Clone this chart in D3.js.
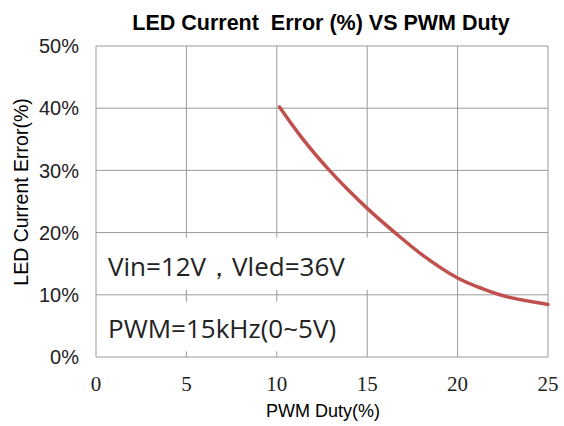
<!DOCTYPE html>
<html>
<head>
<meta charset="utf-8">
<script src="https://cdn.jsdelivr.net/npm/d3@7"></script>
<style>
  body { margin: 0; background: #fff; }
</style>
</head>
<body>
<div id="chart"></div>
<script>
// data
const duty = [10.15, 11.4, 12.85, 13.9, 15.0, 16.45, 18.1, 20.0, 21.4, 22.7, 25.0];
const errorPct = [40.2, 35.2, 30.2, 27.0, 23.9, 20.2, 16.3, 12.7, 10.95, 9.7, 8.45];
const xTicks = [0, 5, 10, 15, 20, 25];
const yTicks = [0, 10, 20, 30, 40, 50];
const notes = ["Vin=12V\uFF0CVled=36V", "PWM=15kHz(0~5V)"];

const width = 564, height = 426;
const margin = { top: 46, right: 16, bottom: 69, left: 96 };

const svg = d3.select("#chart").append("svg")
    .attr("width", width)
    .attr("height", height);

const x = d3.scaleLinear().domain([0, 25]).range([margin.left, width - margin.right]);
const y = d3.scaleLinear().domain([0, 50]).range([height - margin.bottom, margin.top]);

// Grid
svg.append("g")
    .selectAll("line")
    .data(xTicks)
    .enter().append("line")
    .attr("x1", d => x(d)).attr("x2", d => x(d))
    .attr("y1", y(0)).attr("y2", y(50))
    .attr("stroke", "#9a9a9a").attr("stroke-width", 1);

svg.append("g")
    .selectAll("line")
    .data(yTicks)
    .enter().append("line")
    .attr("x1", x(0)).attr("x2", x(25))
    .attr("y1", d => y(d)).attr("y2", d => y(d))
    .attr("stroke", "#9a9a9a").attr("stroke-width", 1);

// Text boxes (white, hiding the grid behind)
const boxes = [
    { x0: 0.1, x1: 15.5, y0: 19.2, y1: 10.8, baseline: 13.1 },
    { x0: 0.1, x1: 14.5, y0: 8.9, y1: 0.9, baseline: 3.0 }
];
boxes.forEach((b, i) => {
    svg.append("rect")
        .attr("x", x(b.x0)).attr("y", y(b.y0))
        .attr("width", x(b.x1) - x(b.x0))
        .attr("height", y(b.y1) - y(b.y0))
        .attr("fill", "#fff");
    svg.append("text")
        .attr("x", x(0) + 12)
        .attr("y", y(b.baseline))
        .attr("font-family", "'Open Sans', sans-serif")
        .attr("font-size", 26)
        .attr("fill", "#222")
        .text(notes[i]);
});

// Curve
const line = d3.line()
    .x((d, i) => x(duty[i]))
    .y(d => y(d))
    .curve(d3.curveCatmullRom.alpha(0.5));

svg.append("path")
    .datum(errorPct)
    .attr("d", line)
    .attr("fill", "none")
    .attr("stroke", "#c0504d")
    .attr("stroke-width", 3.5)
    .attr("stroke-linecap", "round");

// Y tick labels
svg.append("g")
    .selectAll("text")
    .data(yTicks)
    .enter().append("text")
    .attr("x", 79)
    .attr("y", d => y(d))
    .attr("dy", "0.36em")
    .attr("text-anchor", "end")
    .attr("font-family", "'Liberation Sans', Arial, sans-serif")
    .attr("font-size", 20)
    .attr("fill", "#222")
    .text(d => d + "%");

// X tick labels
svg.append("g")
    .selectAll("text")
    .data(xTicks)
    .enter().append("text")
    .attr("x", d => x(d))
    .attr("y", 391)
    .attr("text-anchor", "middle")
    .attr("font-family", "'Liberation Serif', serif")
    .attr("font-size", 21)
    .attr("fill", "#222")
    .text(d => d);

// Title
svg.append("text")
    .attr("x", 321)
    .attr("y", 30)
    .attr("text-anchor", "middle")
    .attr("font-family", "'Liberation Sans', Arial, sans-serif")
    .attr("font-weight", "bold")
    .attr("font-size", 21.5)
    .attr("fill", "#000")
    .attr("xml:space", "preserve")
    .text("LED Current  Error (%) VS PWM Duty");

// Axis titles
svg.append("text")
    .attr("x", 323)
    .attr("y", 417)
    .attr("text-anchor", "middle")
    .attr("font-family", "'Liberation Sans', Arial, sans-serif")
    .attr("font-size", 18)
    .attr("fill", "#000")
    .text("PWM Duty(%)");

svg.append("text")
    .attr("transform", "translate(28,192) rotate(-90)")
    .attr("text-anchor", "middle")
    .attr("font-family", "'Liberation Sans', Arial, sans-serif")
    .attr("font-size", 19.5)
    .attr("fill", "#000")
    .text("LED Current Error(%)");
</script>
</body>
</html>
